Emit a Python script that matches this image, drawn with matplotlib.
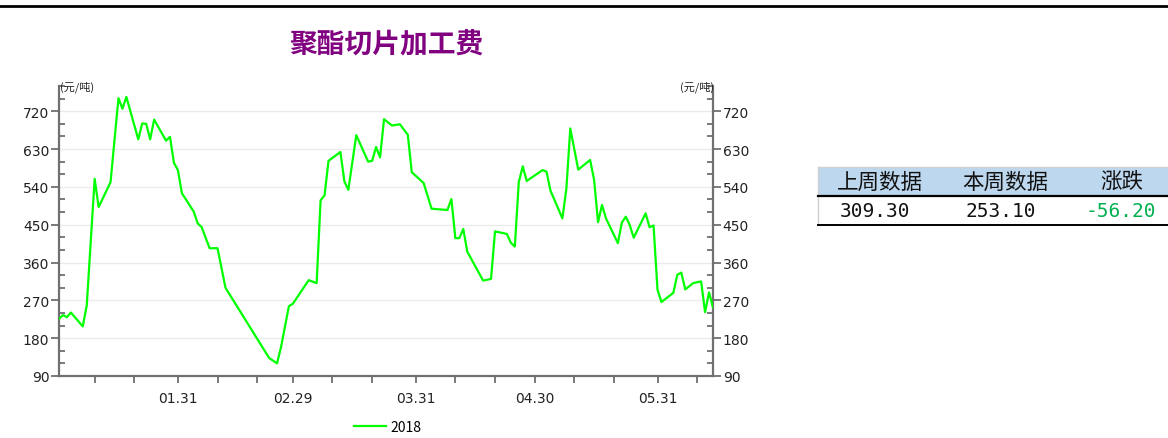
import pandas as pd
import matplotlib
matplotlib.use("Agg")
import matplotlib.pyplot as plt
import matplotlib.dates as mdates
from matplotlib.patches import Rectangle
from matplotlib.lines import Line2D
from matplotlib.ticker import MultipleLocator, FixedLocator

plt.rcParams['font.family'] = ['Noto Sans CJK SC', 'DejaVu Sans']

# ---------------------------------------------------------------------------
# Data
# ---------------------------------------------------------------------------
title = "聚酯切片加工费"
unit = "(元/吨)"
series_name = "2018"
axis_year = "2020"   # leap-year axis so that 02.29 exists

dates = [
    "01-01", "01-02", "01-03", "01-04", "01-07", "01-08", "01-10", "01-11",
    "01-14", "01-16", "01-17", "01-18", "01-21", "01-22", "01-23", "01-24",
    "01-25", "01-28", "01-29", "01-30", "01-31", "02-01", "02-04", "02-05",
    "02-06", "02-08", "02-10", "02-12", "02-23", "02-25", "02-26", "02-28",
    "02-29", "03-04", "03-06", "03-07", "03-08", "03-09", "03-12", "03-13",
    "03-14", "03-16", "03-19", "03-20", "03-21", "03-22", "03-23", "03-25",
    "03-27", "03-29", "03-30", "04-02", "04-04", "04-08", "04-09", "04-10",
    "04-11", "04-12", "04-13", "04-17", "04-19", "04-20", "04-23", "04-24",
    "04-25", "04-26", "04-27", "04-28", "05-02", "05-03", "05-04", "05-07",
    "05-08", "05-09", "05-11", "05-14", "05-15", "05-16", "05-17", "05-18",
    "05-21", "05-22", "05-23", "05-24", "05-25", "05-28", "05-29", "05-30",
    "05-31", "06-01", "06-04", "06-05", "06-06", "06-07", "06-09", "06-11",
    "06-12", "06-13", "06-14",
]
values = [
    226, 235, 230, 241, 208, 258, 559, 492,
    551, 751, 726, 754, 653, 691, 690, 653,
    700, 650, 659, 597, 580, 525, 481, 453,
    444, 394, 394, 300, 133, 120, 158, 256,
    262, 318, 311, 508, 520, 602, 623, 553,
    533, 663, 600, 602, 635, 610, 701, 686,
    689, 664, 575, 549, 488, 485, 511, 418,
    418, 440, 386, 317, 321, 434, 428, 407,
    398, 551, 589, 554, 580, 576, 531, 465,
    535, 679, 581, 604, 557, 456, 497, 465,
    406, 455, 469, 449, 419, 477, 444, 448,
    295, 266, 288, 331, 336, 296, 311, 315,
    242, 289, 253.1,
]

x_major_labels = ["01.31", "02.29", "03.31", "04.30", "05.31"]
x_start, x_end = "01-01", "06-14"
y_ticks = [90, 180, 270, 360, 450, 540, 630, 720]
y_min, y_max = 90, 780

table_header = ["上周数据", "本周数据", "涨跌"]
last_week = 309.30
this_week = 253.10
change = this_week - last_week

# ---------------------------------------------------------------------------
# Figure
# ---------------------------------------------------------------------------
W, H = 1168, 439
fig = plt.figure(figsize=(W / 100, H / 100), dpi=100)
fig.patch.set_facecolor("white")


def fx(px):
    return px / W


def fy(py):
    return 1 - py / H


ax = fig.add_axes([fx(59), fy(377), fx(713 - 59), (377 - 87) / H])

t = pd.to_datetime([f"{axis_year}-{d}" for d in dates])
ax.plot(t, values, color="#00ff00", lw=1.6, label=series_name, zorder=3)

ax.set_xlim(pd.Timestamp(f"{axis_year}-{x_start}"), pd.Timestamp(f"{axis_year}-{x_end}"))
ax.set_ylim(y_min, y_max)

major_dates = pd.to_datetime([f"{axis_year}-{s.replace('.', '-')}" for s in x_major_labels])
ax.xaxis.set_major_locator(FixedLocator(mdates.date2num(major_dates)))
ax.set_xticklabels(x_major_labels)
ax.xaxis.set_minor_locator(mdates.DayLocator(bymonthday=[10, 20]))

ax.yaxis.set_major_locator(FixedLocator(y_ticks))
ax.yaxis.set_minor_locator(MultipleLocator(30))

ax.yaxis.grid(True, which="major", color="#ebebeb", lw=1)
ax.set_axisbelow(True)

axis_col = "#707070"
for side in ("left", "right", "bottom"):
    ax.spines[side].set_color(axis_col)
    ax.spines[side].set_linewidth(1.6)
ax.spines["top"].set_visible(False)

ax.tick_params(axis="y", which="major", direction="out", length=6, width=1.3,
               color=axis_col, left=True, right=True, labelleft=True,
               labelright=True, labelsize=10, labelcolor="#222222", pad=1)
ax.tick_params(axis="y", which="minor", direction="in", length=4, width=1.3,
               color=axis_col, left=True, right=True)
ax.tick_params(axis="x", which="both", direction="out", length=5, width=1.3,
               color=axis_col, labelsize=10, labelcolor="#222222", pad=6)
ax.tick_params(axis="x", which="minor", labelbottom=False)
for lab in ax.get_xticklabels() + ax.get_yticklabels():
    lab.set_family("DejaVu Sans")
for lab in ax.yaxis.get_ticklabels(which="major"):
    lab.set_family("DejaVu Sans")
ax.yaxis.set_tick_params(labelfontfamily="DejaVu Sans")
ax.xaxis.set_tick_params(labelfontfamily="DejaVu Sans")

fig.text(fx(386), fy(45), title, ha="center", va="center", fontsize=20,
         fontweight="bold", color="#800080")
fig.text(fx(60), fy(87), unit, ha="left", va="center", fontsize=8, color="#222222")
fig.text(fx(714), fy(87), unit, ha="right", va="center", fontsize=8, color="#222222")

ax.legend(loc="center", bbox_to_anchor=(fx(388 - 59) / fx(713 - 59), -0.175),
          frameon=False, fontsize=10, handlelength=2.3, handletextpad=0.3)

# top rule across the page
fig.add_artist(Line2D([0, 1], [fy(6.5), fy(6.5)], color="black", lw=2,
                      transform=fig.transFigure))

# ---------------------------------------------------------------------------
# Table
# ---------------------------------------------------------------------------
tx0, tx1 = 818, 1168
fig.add_artist(Rectangle((fx(tx0), fy(197)), fx(tx1 - tx0), (197 - 168) / H,
                         transform=fig.transFigure, facecolor="#bdd7ee",
                         edgecolor="none"))
fig.add_artist(Line2D([fx(tx0), fx(tx1)], [fy(168), fy(168)], color="#d0d0d0",
                      lw=1, transform=fig.transFigure))
fig.add_artist(Line2D([fx(tx0), fx(tx0)], [fy(168), fy(226)], color="#d0d0d0",
                      lw=1, transform=fig.transFigure))
fig.add_artist(Line2D([fx(tx0), fx(tx1)], [fy(197), fy(197)], color="black",
                      lw=1.6, transform=fig.transFigure))
fig.add_artist(Line2D([fx(tx0), fx(tx1)], [fy(226), fy(226)], color="black",
                      lw=1.4, transform=fig.transFigure))

header_x = [880, 1005, 1122]
value_x = [875, 1001, 1121]
for hx, h in zip(header_x, table_header):
    fig.text(fx(hx), fy(183), h, ha="center", va="center", fontsize=15.5,
             color="#111111")
cells = [f"{last_week:.2f}", f"{this_week:.2f}", f"{change:.2f}"]
cell_colors = ["#111111", "#111111", "#00b050"]
for vx, c, col in zip(value_x, cells, cell_colors):
    fig.text(fx(vx), fy(212), c, ha="center", va="center", fontsize=14,
             family="DejaVu Sans Mono", color=col)

fig.savefig("out.png", dpi=100, facecolor="white")
